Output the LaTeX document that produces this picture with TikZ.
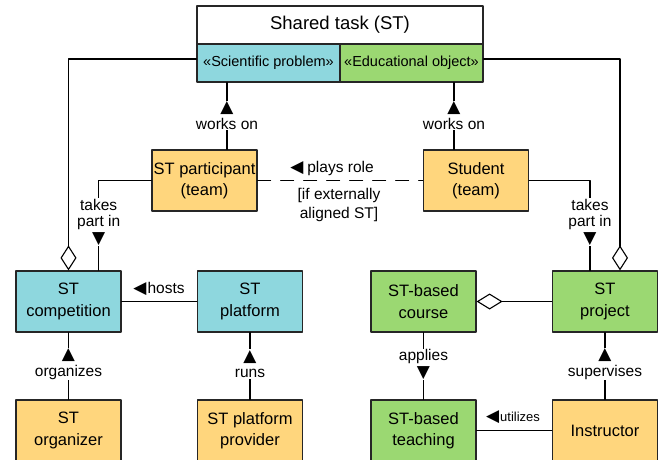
\documentclass[tikz,border=0pt]{standalone}
\usepackage{fontspec}
\setmainfont{Liberation Sans}
\newfontfamily\symfont{DejaVu Sans}
\usetikzlibrary{arrows.meta}
\definecolor{stblue}{RGB}{142,215,222}
\definecolor{stgreen}{RGB}{155,216,114}
\definecolor{storange}{RGB}{255,214,125}
\newcommand{\triup}{{\symfont\fontsize{17}{17}\selectfont ▲}}
\newcommand{\tridown}{{\symfont\fontsize{17}{17}\selectfont ▼}}
\newcommand{\trileft}{{\symfont\fontsize{17}{17}\selectfont ◀}}

\begin{document}
\begin{tikzpicture}[x=1pt, y=-1pt, line cap=round, line join=round,
	box/.style={draw=black!85, line width=1.2pt, minimum width=105pt, minimum height=61pt,
		inner sep=0pt, align=center, font=\fontsize{16.5}{21.5}\selectfont},
	stereo/.style={draw=black!85, line width=1.2pt, minimum width=143pt, minimum height=38pt,
		inner sep=0pt, font=\fontsize{14.5}{16}\selectfont},
	lbl/.style={fill=white, inner sep=1pt, align=center, font=\fontsize{15.5}{16.5}\selectfont},
	rolelbl/.style={inner sep=0pt, align=center, font=\fontsize{15.5}{19}\selectfont},
	conn/.style={line width=1.1pt},
	agg/.style={conn, -{Diamond[open, length=25pt, width=16pt, line width=1.1pt]}}]
	
	\useasboundingbox (0,0) rectangle (659,459);
	\clip (0,0) rectangle (659,459);
	
	% ===== shared task =====
	\node[box, minimum width=286pt, minimum height=38pt, fill=white, font=\fontsize{18.5}{20}\selectfont] (st) at (340,25) {Shared task (ST)};
	\node[stereo, fill=stblue] (sci) at (268.5,63) {«Scientific problem»};
	\node[stereo, fill=stgreen] (edu) at (411.5,63) {«Educational object»};
	
	% ===== teams =====
	\node[box, fill=storange] (part) at (204.5,180.5) {ST participant\\(team)};
	\node[box, fill=storange] (stud) at (476,180.5) {Student\\(team)};
	
	% ===== middle row =====
	\node[box, fill=stblue] (comp) at (68.5,301.5) {ST\\competition};
	\node[box, fill=stblue] (plat) at (250,301.5) {ST\\platform};
	\node[box, fill=stgreen] (course) at (423.5,301.5) {ST-based\\course};
	\node[box, fill=stgreen] (proj) at (605,301.5) {ST\\project};
	
	% ===== bottom row =====
	\node[box, fill=storange] (org) at (68.5,430.5) {ST\\organizer};
	\node[box, fill=storange] (prov) at (250,430.5) {ST platform\\provider};
	\node[box, fill=stgreen] (teach) at (423.5,430.5) {ST-based\\teaching};
	\node[box, fill=storange] (instr) at (605,430.5) {Instructor};
	
	% connector labels (positions)
	\coordinate (wrkA) at (227,115.5);
	\coordinate (wrkB) at (454,115.5);
	\coordinate (tkA) at (98.7,222);
	\coordinate (tkB) at (590,222);
	
	% ===== connectors =====
	\draw[conn] (sci.south -| wrkA) -- (part.north -| wrkA);
	\draw[conn] (edu.south -| wrkB) -- (stud.north -| wrkB);
	\draw[conn] (part.west) -| (comp.north -| tkA);
	\draw[conn] (stud.east) -| (proj.north -| tkB);
	\draw[agg] ([yshift=4pt]sci.west) -| (comp.north);
	\draw[agg] ([yshift=4pt]edu.east) -| ([xshift=15pt]proj.north);
	\draw[conn, dash pattern=on 13pt off 10pt] (part.east) -- (stud.west);
	\draw[conn] (comp.east) -- (plat.west);
	\draw[conn, {Diamond[open, length=26pt, width=16pt, line width=1.1pt]}-] (course.east) -- (proj.west);
	\draw[conn] (org.north) -- (comp.south);
	\draw[conn] (prov.north) -- (plat.south);
	\draw[conn] (course.south) -- (teach.north);
	\draw[conn] (instr.north) -- (proj.south);
	\draw[conn] (teach.east) -- (instr.west |- teach.east);
	
	% ===== labels =====
	\node[lbl] (worksA) at (wrkA) {\triup\\works on};
	\node[lbl] (worksB) at (wrkB) {\triup\\works on};
	\node[lbl] (takesA) at (tkA) {takes\\part in\\\tridown};
	\node[lbl] (takesB) at (tkB) {takes\\part in\\\tridown};
	\node[lbl] (orgz) at (68.5,364) {\triup\\organizes};
	\node[lbl] (runs) at (250,364) {\triup\\runs};
	\node[lbl] (appl) at (423.5,364.5) {applies\\\tridown};
	\node[lbl] (supv) at (605,364) {\triup\\supervises};
	\node[rolelbl] (hosts) at (159,289) {\trileft\kern1pt hosts};
	\node[rolelbl] (plays) at (332,168) {\trileft\kern4pt plays role};
	\node[rolelbl] (cond) at (339,205) {[if externally\\aligned ST]};
	\node[rolelbl, font=\fontsize{13}{15}\selectfont] (util) at (513,417) {\trileft\kern1pt utilizes};
	
\end{tikzpicture}
\end{document}
